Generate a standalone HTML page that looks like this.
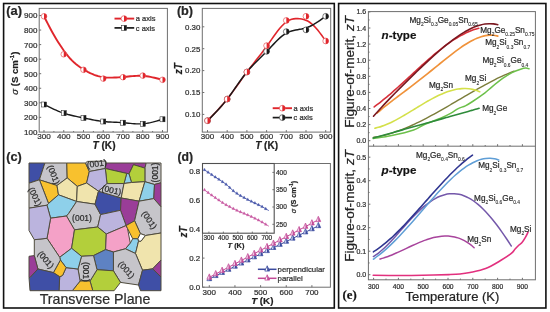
<!DOCTYPE html><html><head><meta charset="utf-8"><style>html,body{margin:0;padding:0;background:#fff;overflow:hidden}svg{display:block;filter:blur(0.4px)}text{stroke:#2a2a2a;stroke-width:0.22px}</style></head><body>
<svg width="550" height="312" viewBox="0 0 550 312" style="font-family:'Liberation Sans',sans-serif">
<rect x="0" y="0" width="550" height="312" fill="#fff"/>
<rect x="3.6" y="3.5" width="330.7" height="304.5" fill="none" stroke="#111" stroke-width="1.6"/>
<rect x="338.6" y="3.5" width="207.3" height="304.5" fill="none" stroke="#111" stroke-width="1.6"/>
<rect x="39.2" y="8.4" width="128.2" height="123.7" fill="none" stroke="#6e6e6e" stroke-width="1"/>
<text x="37.4" y="134.8" font-size="8" text-anchor="end" font-weight="normal" font-style="normal" fill="#333333" >100</text>
<line x1="39.2" y1="117.35" x2="41.2" y2="117.35" stroke="#6e6e6e" stroke-width="1"/>
<text x="37.4" y="120.25" font-size="8" text-anchor="end" font-weight="normal" font-style="normal" fill="#333333" >200</text>
<line x1="39.2" y1="102.8" x2="41.2" y2="102.8" stroke="#6e6e6e" stroke-width="1"/>
<text x="37.4" y="105.7" font-size="8" text-anchor="end" font-weight="normal" font-style="normal" fill="#333333" >300</text>
<line x1="39.2" y1="88.25" x2="41.2" y2="88.25" stroke="#6e6e6e" stroke-width="1"/>
<text x="37.4" y="91.15" font-size="8" text-anchor="end" font-weight="normal" font-style="normal" fill="#333333" >400</text>
<line x1="39.2" y1="73.7" x2="41.2" y2="73.7" stroke="#6e6e6e" stroke-width="1"/>
<text x="37.4" y="76.6" font-size="8" text-anchor="end" font-weight="normal" font-style="normal" fill="#333333" >500</text>
<line x1="39.2" y1="59.15" x2="41.2" y2="59.15" stroke="#6e6e6e" stroke-width="1"/>
<text x="37.4" y="62.05" font-size="8" text-anchor="end" font-weight="normal" font-style="normal" fill="#333333" >600</text>
<line x1="39.2" y1="44.6" x2="41.2" y2="44.6" stroke="#6e6e6e" stroke-width="1"/>
<text x="37.4" y="47.5" font-size="8" text-anchor="end" font-weight="normal" font-style="normal" fill="#333333" >700</text>
<line x1="39.2" y1="30.05" x2="41.2" y2="30.05" stroke="#6e6e6e" stroke-width="1"/>
<text x="37.4" y="32.95" font-size="8" text-anchor="end" font-weight="normal" font-style="normal" fill="#333333" >800</text>
<line x1="39.2" y1="15.5" x2="41.2" y2="15.5" stroke="#6e6e6e" stroke-width="1"/>
<text x="37.4" y="18.4" font-size="8" text-anchor="end" font-weight="normal" font-style="normal" fill="#333333" >900</text>
<line x1="44" y1="132.1" x2="44" y2="130.1" stroke="#6e6e6e" stroke-width="1"/>
<text x="44" y="139.4" font-size="8.1" text-anchor="middle" font-weight="normal" font-style="normal" fill="#333333" >300</text>
<line x1="63.75" y1="132.1" x2="63.75" y2="130.1" stroke="#6e6e6e" stroke-width="1"/>
<text x="63.75" y="139.4" font-size="8.1" text-anchor="middle" font-weight="normal" font-style="normal" fill="#333333" >400</text>
<line x1="83.5" y1="132.1" x2="83.5" y2="130.1" stroke="#6e6e6e" stroke-width="1"/>
<text x="83.5" y="139.4" font-size="8.1" text-anchor="middle" font-weight="normal" font-style="normal" fill="#333333" >500</text>
<line x1="103.25" y1="132.1" x2="103.25" y2="130.1" stroke="#6e6e6e" stroke-width="1"/>
<text x="103.25" y="139.4" font-size="8.1" text-anchor="middle" font-weight="normal" font-style="normal" fill="#333333" >600</text>
<line x1="123" y1="132.1" x2="123" y2="130.1" stroke="#6e6e6e" stroke-width="1"/>
<text x="123" y="139.4" font-size="8.1" text-anchor="middle" font-weight="normal" font-style="normal" fill="#333333" >700</text>
<line x1="142.75" y1="132.1" x2="142.75" y2="130.1" stroke="#6e6e6e" stroke-width="1"/>
<text x="142.75" y="139.4" font-size="8.1" text-anchor="middle" font-weight="normal" font-style="normal" fill="#333333" >800</text>
<line x1="162.5" y1="132.1" x2="162.5" y2="130.1" stroke="#6e6e6e" stroke-width="1"/>
<text x="162.5" y="139.4" font-size="8.1" text-anchor="middle" font-weight="normal" font-style="normal" fill="#333333" >900</text>
<line x1="53.88" y1="132.1" x2="53.88" y2="131" stroke="#6e6e6e" stroke-width="1"/>
<line x1="73.62" y1="132.1" x2="73.62" y2="131" stroke="#6e6e6e" stroke-width="1"/>
<line x1="93.38" y1="132.1" x2="93.38" y2="131" stroke="#6e6e6e" stroke-width="1"/>
<line x1="113.12" y1="132.1" x2="113.12" y2="131" stroke="#6e6e6e" stroke-width="1"/>
<line x1="132.88" y1="132.1" x2="132.88" y2="131" stroke="#6e6e6e" stroke-width="1"/>
<line x1="152.62" y1="132.1" x2="152.62" y2="131" stroke="#6e6e6e" stroke-width="1"/>
<text x="104" y="148.8" font-size="10.1" text-anchor="middle" font-weight="bold" font-style="normal" fill="#1e1e1e" ><tspan font-style="italic">T</tspan> (K)</text>
<text transform="translate(17.8,73.2) rotate(-90)" font-size="9.6" text-anchor="middle" font-weight="bold" fill="#1e1e1e"><tspan font-style="italic" font-weight="normal">&#963;</tspan> (S cm<tspan font-size="6" dy="-3.5">-1</tspan><tspan dy="3.5">)</tspan></text>
<text x="6.2" y="15.1" font-size="12.9" text-anchor="start" font-weight="bold" font-style="normal" fill="#262626" >(a)</text>
<path d="M44,16.3 L46.01,20.27 L48.02,24.19 L50.03,28.04 L52.03,31.76 L54.04,35.32 L56.05,38.72 L58.06,41.98 L60.07,45.09 L62.08,48.09 L64.08,50.95 L66.09,53.66 L68.1,56.19 L70.11,58.52 L72.12,60.63 L74.13,62.52 L76.14,64.21 L78.14,65.75 L80.15,67.17 L82.16,68.5 L84.17,69.76 L86.18,70.94 L88.19,72.05 L90.19,73.07 L92.2,73.99 L94.21,74.81 L96.22,75.53 L98.23,76.14 L100.24,76.65 L102.25,77.04 L104.25,77.33 L106.26,77.51 L108.27,77.61 L110.28,77.64 L112.29,77.62 L114.3,77.56 L116.31,77.47 L118.31,77.36 L120.32,77.22 L122.33,77.06 L124.34,76.88 L126.35,76.68 L128.36,76.48 L130.36,76.29 L132.37,76.12 L134.38,75.97 L136.39,75.86 L138.4,75.8 L140.41,75.81 L142.42,75.88 L144.42,76.03 L146.43,76.26 L148.44,76.56 L150.45,76.91 L152.46,77.31 L154.47,77.76 L156.47,78.24 L158.48,78.75 L160.49,79.27 L162.5,79.8" fill="none" stroke="#e0262c" stroke-width="1.9"/>
<path d="M44,104.5 L46.01,105.49 L48.02,106.47 L50.03,107.44 L52.03,108.39 L54.04,109.32 L56.05,110.21 L58.06,111.06 L60.07,111.87 L62.08,112.62 L64.08,113.31 L66.09,113.94 L68.1,114.52 L70.11,115.04 L72.12,115.53 L74.13,115.98 L76.14,116.41 L78.14,116.83 L80.15,117.23 L82.16,117.63 L84.17,118.04 L86.18,118.45 L88.19,118.87 L90.19,119.29 L92.2,119.69 L94.21,120.09 L96.22,120.46 L98.23,120.8 L100.24,121.11 L102.25,121.38 L104.25,121.61 L106.26,121.79 L108.27,121.93 L110.28,122.05 L112.29,122.15 L114.3,122.24 L116.31,122.32 L118.31,122.41 L120.32,122.52 L122.33,122.65 L124.34,122.81 L126.35,123 L128.36,123.2 L130.36,123.39 L132.37,123.58 L134.38,123.73 L136.39,123.85 L138.4,123.91 L140.41,123.91 L142.42,123.82 L144.42,123.65 L146.43,123.38 L148.44,123.04 L150.45,122.64 L152.46,122.17 L154.47,121.65 L156.47,121.1 L158.48,120.52 L160.49,119.91 L162.5,119.3" fill="none" stroke="#1a1a1a" stroke-width="1.4"/>
<circle cx="44" cy="16.3" r="2.8" fill="#fff" stroke="#e0262c" stroke-width="0.55"/>
<path d="M44,13.5 A2.8,2.8 0 0 1 44,19.1 Z" fill="#e0262c"/>
<circle cx="63.75" cy="54.3" r="2.8" fill="#fff" stroke="#e0262c" stroke-width="0.55"/>
<path d="M63.75,51.5 A2.8,2.8 0 0 1 63.75,57.1 Z" fill="#e0262c"/>
<circle cx="83.5" cy="69.8" r="2.8" fill="#fff" stroke="#e0262c" stroke-width="0.55"/>
<path d="M83.5,67 A2.8,2.8 0 0 1 83.5,72.6 Z" fill="#e0262c"/>
<circle cx="103.25" cy="78.6" r="2.8" fill="#fff" stroke="#e0262c" stroke-width="0.55"/>
<path d="M103.25,75.8 A2.8,2.8 0 0 1 103.25,81.4 Z" fill="#e0262c"/>
<circle cx="123" cy="77.2" r="2.8" fill="#fff" stroke="#e0262c" stroke-width="0.55"/>
<path d="M123,74.4 A2.8,2.8 0 0 1 123,80 Z" fill="#e0262c"/>
<circle cx="142.75" cy="75.6" r="2.8" fill="#fff" stroke="#e0262c" stroke-width="0.55"/>
<path d="M142.75,72.8 A2.8,2.8 0 0 1 142.75,78.4 Z" fill="#e0262c"/>
<circle cx="162.5" cy="79.8" r="2.8" fill="#fff" stroke="#e0262c" stroke-width="0.55"/>
<path d="M162.5,77 A2.8,2.8 0 0 1 162.5,82.6 Z" fill="#e0262c"/>
<rect x="41.5" y="102" width="5" height="5" fill="#fff" stroke="#1a1a1a" stroke-width="0.5"/>
<rect x="44" y="102" width="2.5" height="5" fill="#1a1a1a"/>
<rect x="61.25" y="110.7" width="5" height="5" fill="#fff" stroke="#1a1a1a" stroke-width="0.5"/>
<rect x="63.75" y="110.7" width="2.5" height="5" fill="#1a1a1a"/>
<rect x="81" y="115.4" width="5" height="5" fill="#fff" stroke="#1a1a1a" stroke-width="0.5"/>
<rect x="83.5" y="115.4" width="2.5" height="5" fill="#1a1a1a"/>
<rect x="100.75" y="119" width="5" height="5" fill="#fff" stroke="#1a1a1a" stroke-width="0.5"/>
<rect x="103.25" y="119" width="2.5" height="5" fill="#1a1a1a"/>
<rect x="120.5" y="120.2" width="5" height="5" fill="#fff" stroke="#1a1a1a" stroke-width="0.5"/>
<rect x="123" y="120.2" width="2.5" height="5" fill="#1a1a1a"/>
<rect x="140.25" y="121.3" width="5" height="5" fill="#fff" stroke="#1a1a1a" stroke-width="0.5"/>
<rect x="142.75" y="121.3" width="2.5" height="5" fill="#1a1a1a"/>
<rect x="160" y="116.8" width="5" height="5" fill="#fff" stroke="#1a1a1a" stroke-width="0.5"/>
<rect x="162.5" y="116.8" width="2.5" height="5" fill="#1a1a1a"/>
<line x1="114.5" y1="18.6" x2="134.2" y2="18.6" stroke="#e0262c" stroke-width="1.9"/>
<circle cx="124" cy="18.6" r="2.9" fill="#fff" stroke="#e0262c" stroke-width="0.55"/>
<path d="M124,15.7 A2.9,2.9 0 0 1 124,21.5 Z" fill="#e0262c"/>
<text x="135.8" y="21.3" font-size="7.5" text-anchor="start" font-weight="normal" font-style="normal" fill="#333333" >a axis</text>
<line x1="114.5" y1="27.9" x2="134.2" y2="27.9" stroke="#1a1a1a" stroke-width="1.7"/>
<rect x="121.5" y="25.4" width="5" height="5" fill="#fff" stroke="#1a1a1a" stroke-width="0.5"/>
<rect x="124" y="25.4" width="2.5" height="5" fill="#1a1a1a"/>
<text x="135.8" y="30.6" font-size="7.5" text-anchor="start" font-weight="normal" font-style="normal" fill="#333333" >c axis</text>
<rect x="202.3" y="8.4" width="128.4" height="123.7" fill="none" stroke="#6e6e6e" stroke-width="1"/>
<line x1="202.3" y1="114.4" x2="204.3" y2="114.4" stroke="#6e6e6e" stroke-width="1"/>
<text x="200.4" y="117.2" font-size="7.9" text-anchor="end" font-weight="normal" font-style="normal" fill="#333333" >0.10</text>
<line x1="202.3" y1="92.5" x2="204.3" y2="92.5" stroke="#6e6e6e" stroke-width="1"/>
<text x="200.4" y="95.3" font-size="7.9" text-anchor="end" font-weight="normal" font-style="normal" fill="#333333" >0.15</text>
<line x1="202.3" y1="70.6" x2="204.3" y2="70.6" stroke="#6e6e6e" stroke-width="1"/>
<text x="200.4" y="73.4" font-size="7.9" text-anchor="end" font-weight="normal" font-style="normal" fill="#333333" >0.20</text>
<line x1="202.3" y1="48.7" x2="204.3" y2="48.7" stroke="#6e6e6e" stroke-width="1"/>
<text x="200.4" y="51.5" font-size="7.9" text-anchor="end" font-weight="normal" font-style="normal" fill="#333333" >0.25</text>
<line x1="202.3" y1="26.8" x2="204.3" y2="26.8" stroke="#6e6e6e" stroke-width="1"/>
<text x="200.4" y="29.6" font-size="7.9" text-anchor="end" font-weight="normal" font-style="normal" fill="#333333" >0.30</text>
<line x1="207.5" y1="132.1" x2="207.5" y2="130.1" stroke="#6e6e6e" stroke-width="1"/>
<text x="207.5" y="139.4" font-size="8" text-anchor="middle" font-weight="normal" font-style="normal" fill="#333333" >300</text>
<line x1="227.2" y1="132.1" x2="227.2" y2="130.1" stroke="#6e6e6e" stroke-width="1"/>
<text x="227.2" y="139.4" font-size="8" text-anchor="middle" font-weight="normal" font-style="normal" fill="#333333" >400</text>
<line x1="246.9" y1="132.1" x2="246.9" y2="130.1" stroke="#6e6e6e" stroke-width="1"/>
<text x="246.9" y="139.4" font-size="8" text-anchor="middle" font-weight="normal" font-style="normal" fill="#333333" >500</text>
<line x1="266.6" y1="132.1" x2="266.6" y2="130.1" stroke="#6e6e6e" stroke-width="1"/>
<text x="266.6" y="139.4" font-size="8" text-anchor="middle" font-weight="normal" font-style="normal" fill="#333333" >600</text>
<line x1="286.3" y1="132.1" x2="286.3" y2="130.1" stroke="#6e6e6e" stroke-width="1"/>
<text x="286.3" y="139.4" font-size="8" text-anchor="middle" font-weight="normal" font-style="normal" fill="#333333" >700</text>
<line x1="306" y1="132.1" x2="306" y2="130.1" stroke="#6e6e6e" stroke-width="1"/>
<text x="306" y="139.4" font-size="8" text-anchor="middle" font-weight="normal" font-style="normal" fill="#333333" >800</text>
<line x1="325.7" y1="132.1" x2="325.7" y2="130.1" stroke="#6e6e6e" stroke-width="1"/>
<text x="325.7" y="139.4" font-size="8" text-anchor="middle" font-weight="normal" font-style="normal" fill="#333333" >900</text>
<text x="266.6" y="149.3" font-size="10" text-anchor="middle" font-weight="bold" font-style="normal" fill="#1e1e1e" ><tspan font-style="italic">T</tspan> (K)</text>
<text transform="translate(182.0,68.6) rotate(-90)" font-size="10.0" text-anchor="middle" font-weight="bold" font-style="italic" fill="#1e1e1e">zT</text>
<text x="176.9" y="15.4" font-size="12.7" text-anchor="start" font-weight="bold" font-style="normal" fill="#262626" >(b)</text>
<path d="M207.5,120.66 L209.5,118.64 L211.51,116.6 L213.51,114.54 L215.51,112.45 L217.52,110.31 L219.52,108.13 L221.52,105.88 L223.53,103.55 L225.53,101.15 L227.53,98.65 L229.54,96.05 L231.54,93.36 L233.54,90.62 L235.55,87.83 L237.55,85.01 L239.55,82.18 L241.56,79.35 L243.56,76.56 L245.56,73.8 L247.57,71.11 L249.57,68.49 L251.57,65.92 L253.58,63.38 L255.58,60.86 L257.58,58.33 L259.59,55.79 L261.59,53.22 L263.59,50.59 L265.6,47.89 L267.6,45.11 L269.61,42.25 L271.61,39.37 L273.61,36.52 L275.62,33.73 L277.62,31.06 L279.62,28.55 L281.63,26.25 L283.63,24.22 L285.63,22.48 L287.64,21.1 L289.64,20.06 L291.64,19.33 L293.65,18.87 L295.65,18.64 L297.65,18.61 L299.66,18.75 L301.66,19.03 L303.66,19.5 L305.67,20.17 L307.67,21.08 L309.67,22.27 L311.68,23.76 L313.68,25.58 L315.68,27.69 L317.69,30.05 L319.69,32.62 L321.69,35.32 L323.7,38.13 L325.7,40.99" fill="none" stroke="#e0262c" stroke-width="1.6"/>
<path d="M207.5,120.66 L209.5,118.67 L211.51,116.66 L213.51,114.62 L215.51,112.55 L217.52,110.43 L219.52,108.25 L221.52,105.99 L223.53,103.64 L225.53,101.19 L227.53,98.64 L229.54,95.96 L231.54,93.2 L233.54,90.37 L235.55,87.51 L237.55,84.65 L239.55,81.8 L241.56,79.01 L243.56,76.29 L245.56,73.67 L247.57,71.19 L249.57,68.85 L251.57,66.63 L253.58,64.51 L255.58,62.46 L257.58,60.47 L259.59,58.5 L261.59,56.55 L263.59,54.58 L265.6,52.57 L267.6,50.51 L269.61,48.39 L271.61,46.24 L273.61,44.12 L275.62,42.04 L277.62,40.04 L279.62,38.16 L281.63,36.42 L283.63,34.87 L285.63,33.54 L287.64,32.46 L289.64,31.6 L291.64,30.94 L293.65,30.43 L295.65,30.02 L297.65,29.67 L299.66,29.33 L301.66,28.97 L303.66,28.54 L305.67,28 L307.67,27.3 L309.67,26.46 L311.68,25.48 L313.68,24.38 L315.68,23.19 L317.69,21.91 L319.69,20.56 L321.69,19.16 L323.7,17.73 L325.7,16.29" fill="none" stroke="#1a1a1a" stroke-width="1.5"/>
<circle cx="207.5" cy="120.66" r="2.9" fill="#fff" stroke="#1a1a1a" stroke-width="0.55"/>
<path d="M207.5,117.76 A2.9,2.9 0 0 1 207.5,123.56 Z" fill="#1a1a1a"/>
<circle cx="227.2" cy="99.07" r="2.9" fill="#fff" stroke="#1a1a1a" stroke-width="0.55"/>
<path d="M227.2,96.17 A2.9,2.9 0 0 1 227.2,101.97 Z" fill="#1a1a1a"/>
<circle cx="246.9" cy="72" r="2.9" fill="#fff" stroke="#1a1a1a" stroke-width="0.55"/>
<path d="M246.9,69.1 A2.9,2.9 0 0 1 246.9,74.9 Z" fill="#1a1a1a"/>
<circle cx="266.6" cy="51.33" r="2.9" fill="#fff" stroke="#1a1a1a" stroke-width="0.55"/>
<path d="M266.6,48.43 A2.9,2.9 0 0 1 266.6,54.23 Z" fill="#1a1a1a"/>
<circle cx="286.3" cy="31.62" r="2.9" fill="#fff" stroke="#1a1a1a" stroke-width="0.55"/>
<path d="M286.3,28.72 A2.9,2.9 0 0 1 286.3,34.52 Z" fill="#1a1a1a"/>
<circle cx="306" cy="29.87" r="2.9" fill="#fff" stroke="#1a1a1a" stroke-width="0.55"/>
<path d="M306,26.97 A2.9,2.9 0 0 1 306,32.77 Z" fill="#1a1a1a"/>
<circle cx="325.7" cy="16.29" r="2.9" fill="#fff" stroke="#1a1a1a" stroke-width="0.55"/>
<path d="M325.7,13.39 A2.9,2.9 0 0 1 325.7,19.19 Z" fill="#1a1a1a"/>
<circle cx="207.5" cy="120.66" r="2.9" fill="#fff" stroke="#e0262c" stroke-width="0.55"/>
<path d="M207.5,117.76 A2.9,2.9 0 0 1 207.5,123.56 Z" fill="#e0262c"/>
<circle cx="227.2" cy="99.07" r="2.9" fill="#fff" stroke="#e0262c" stroke-width="0.55"/>
<path d="M227.2,96.17 A2.9,2.9 0 0 1 227.2,101.97 Z" fill="#e0262c"/>
<circle cx="246.9" cy="72" r="2.9" fill="#fff" stroke="#e0262c" stroke-width="0.55"/>
<path d="M246.9,69.1 A2.9,2.9 0 0 1 246.9,74.9 Z" fill="#e0262c"/>
<circle cx="266.6" cy="45.63" r="2.9" fill="#fff" stroke="#e0262c" stroke-width="0.55"/>
<path d="M266.6,42.73 A2.9,2.9 0 0 1 266.6,48.53 Z" fill="#e0262c"/>
<circle cx="286.3" cy="20.45" r="2.9" fill="#fff" stroke="#e0262c" stroke-width="0.55"/>
<path d="M286.3,17.55 A2.9,2.9 0 0 1 286.3,23.35 Z" fill="#e0262c"/>
<circle cx="306" cy="16.29" r="2.9" fill="#fff" stroke="#e0262c" stroke-width="0.55"/>
<path d="M306,13.39 A2.9,2.9 0 0 1 306,19.19 Z" fill="#e0262c"/>
<circle cx="325.7" cy="40.99" r="2.9" fill="#fff" stroke="#e0262c" stroke-width="0.55"/>
<path d="M325.7,38.09 A2.9,2.9 0 0 1 325.7,43.89 Z" fill="#e0262c"/>
<line x1="272.7" y1="108.2" x2="292" y2="108.2" stroke="#e0262c" stroke-width="1.9"/>
<circle cx="282.3" cy="108.2" r="2.9" fill="#fff" stroke="#e0262c" stroke-width="0.55"/>
<path d="M282.3,105.3 A2.9,2.9 0 0 1 282.3,111.1 Z" fill="#e0262c"/>
<text x="293.6" y="110.9" font-size="7.5" text-anchor="start" font-weight="normal" font-style="normal" fill="#333333" >a axis</text>
<line x1="272.7" y1="117.6" x2="292" y2="117.6" stroke="#1a1a1a" stroke-width="1.7"/>
<circle cx="282.3" cy="117.6" r="2.9" fill="#fff" stroke="#1a1a1a" stroke-width="0.55"/>
<path d="M282.3,114.7 A2.9,2.9 0 0 1 282.3,120.5 Z" fill="#1a1a1a"/>
<text x="293.6" y="120.3" font-size="7.5" text-anchor="start" font-weight="normal" font-style="normal" fill="#333333" >c axis</text>
<text x="6.3" y="161.1" font-size="12.7" text-anchor="start" font-weight="bold" font-style="normal" fill="#262626" >(c)</text>
<text x="95" y="303.7" font-size="14.2" text-anchor="middle" font-weight="normal" font-style="normal" fill="#2e2e2e" >Transverse Plane</text>
<g stroke="#4f4b3d" stroke-width="1.0" stroke-linejoin="round">
<polygon points="29,163 44.9,163 39.4,179.8 29,183.2" fill="#3f4fa6"/>
<polygon points="44.9,163 66.8,163 67.2,177.9 57,185.5 39.4,179.8" fill="#c6c5ca"/>
<polygon points="66.8,163 85.5,163 89.3,171.5 86.6,183 77.3,186.4 67.2,177.9" fill="#f8c12e"/>
<polygon points="85.5,162.8 87.5,161.4 105.8,161 106,163 105.3,168.5 89.3,171.5" fill="#c6c5ca"/>
<polygon points="106,163 146.2,163 144.9,168.1 133.5,164.7 129,173.9 126.7,173.4 105.3,168.5" fill="#9a3d98"/>
<polygon points="146.2,163 161,163 161,182.8 154.5,184.5 144.9,181.7 144.9,168.1" fill="#c6c5ca"/>
<polygon points="133.5,164.7 144.9,168.1 144.9,181.7 131.5,182.5 129,173.9" fill="#b3cf3b"/>
<polygon points="126.7,173.4 129,173.9 131.5,182.5 124,183.5" fill="#8ed0ea"/>
<polygon points="105.3,168.5 126.7,173.4 124,183.5 107,183.6" fill="#b3cf3b"/>
<polygon points="89.3,171.5 105.3,168.5 107,183.6 98.5,191.2 86.6,183" fill="#bbb4de"/>
<polygon points="39.4,179.8 57,185.5 58.5,194.8 48.5,203.5" fill="#f8c12e"/>
<polygon points="29,183.2 39.4,179.8 48.5,203.5 47,205.2 29,208.2" fill="#c6c5ca"/>
<polygon points="57,185.5 67.2,177.9 77.3,186.4 76.6,201.5 58.5,194.8" fill="#f0e4ad"/>
<polygon points="77.3,186.4 86.6,183 98.5,191.2 95,204.2 76.6,201.5" fill="#f0e4ad"/>
<polygon points="48.5,203.5 58.5,194.8 76.6,201.5 68.8,213.3 66.5,216 50.6,218.2 47,205.2" fill="#8ed0ea"/>
<polygon points="76.6,201.5 95,204.2 100.6,214.6 97.7,227 74.5,229.8 66.5,216 68.8,213.3" fill="#c6c5ca"/>
<polygon points="50.6,218.2 66.5,216 74.5,229.8 71.6,248.3 59.7,257.3 47,238.3" fill="#f4a1c7"/>
<polygon points="98.5,191.2 121.2,198 120.5,210.3 100.6,214.6 95,204.2" fill="#3f4fa6"/>
<polygon points="98.5,191.2 107,183.6 124,183.5 121.2,198" fill="#c6c5ca"/>
<polygon points="124,183.5 131.5,182.5 144.9,181.7 139.1,201.2 121.2,198" fill="#f0e4ad"/>
<polygon points="144.9,181.7 154.5,184.5 153.8,198.6 139.1,201.2" fill="#8ed0ea"/>
<polygon points="154.5,184.5 161,182.8 161,206.9 153.8,198.6" fill="#9a3d98"/>
<polygon points="121.2,198 139.1,201.2 134.6,220.8 126.1,225.6 120.5,210.3" fill="#9a3d98"/>
<polygon points="139.1,201.2 153.8,198.6 161,206.9 161,233 145.5,235.5 140.4,233.6 134.6,220.8" fill="#c6c5ca"/>
<polygon points="100.6,214.6 120.5,210.3 126.1,225.6 106.3,234 97.7,227" fill="#bbb4de"/>
<polygon points="74.5,229.8 97.7,227 106.3,234 105.6,249.6 93.5,255.6 81.5,256.3 71.6,248.3" fill="#b3cf3b"/>
<polygon points="106.3,234 126.1,225.6 127.5,228.4 130.3,243.2 125.4,248.8 113.4,252 105.6,249.6" fill="#f4a1c7"/>
<polygon points="134.6,220.8 140.4,233.6 137.8,238.8 132.7,238.7 127.5,228.4 126.1,225.6" fill="#f8c12e"/>
<polygon points="140.4,233.6 145.5,235.5 141,241.3 138.5,241.3 137.8,238.8" fill="#ffffff"/>
<polygon points="130.3,243.2 132.7,238.7 137.8,238.8 138.5,241.3 135.5,253.5 125.4,248.8" fill="#8ed0ea"/>
<polygon points="145.5,235.5 161,233 161,260.1 152.6,268.9 142.5,270.2 135.5,253.5 138.5,241.3 141,241.3" fill="#f0e4ad"/>
<polygon points="113.4,252 125.4,248.8 135.5,253.5 142.5,270.2 138.5,285 120.5,282.4 113.4,270.8" fill="#c6c5ca"/>
<polygon points="152.6,268.9 161,260.1 161,277" fill="#9a3d98"/>
<polygon points="142.5,270.2 152.6,268.9 161,277 161,290.7 140.5,290.7 138.5,285" fill="#3f4fa6"/>
<polygon points="93.5,255.6 105.6,249.6 113.4,252 113.4,270.8 97,269.7" fill="#5e82c3"/>
<polygon points="97,269.7 113.4,270.8 120.5,282.4 114.1,290.7 92.8,290.7 90,281" fill="#b3cf3b"/>
<polygon points="81.5,256.3 93.5,255.6 97,269.7 90,281 80.1,281 78,269" fill="#c6c5ca"/>
<polygon points="80.1,281 90,281 92.8,290.7 72.3,290.7" fill="#f8c12e"/>
<polygon points="66.1,267.6 78,269 80.1,281 72.3,290.7 59,290.7 59.7,276.8 62.6,275.4" fill="#bbb4de"/>
<polygon points="59.7,257.3 71.6,248.3 81.5,256.3 78,269 66.1,267.6 60.4,260" fill="#8ed0ea"/>
<polygon points="60.4,260 66.1,267.6 62.6,275.4 59.7,276.8 53.4,272.6" fill="#f8c12e"/>
<polygon points="34.3,239.7 47,238.3 59.7,257.3 60.4,260 53.4,272.6 37.9,269 34.3,255.6" fill="#c6c5ca"/>
<polygon points="29,256.3 34.3,255.6 37.9,269 30.1,277.5 29,277.5" fill="#9a3d98"/>
<polygon points="29,277.5 30.1,277.5 37.9,269 53.4,272.6 59.7,276.8 59,290.7 30,290.7" fill="#3f4fa6"/>
<polygon points="29,208.2 47,205.2 50.6,218.2 47,238.3 34.3,239.7 29,230.5" fill="#bbb4de"/>
</g>
<text transform="translate(53.7,174.6) rotate(68)" font-size="8.5" text-anchor="middle" fill="#2e2e2e" dy="3.0">(001)</text>
<text transform="translate(35.2,196.6) rotate(64)" font-size="8.5" text-anchor="middle" fill="#2e2e2e" dy="3.0">(001)</text>
<text transform="translate(96.7,163.6) rotate(-8)" font-size="8.5" text-anchor="middle" fill="#2e2e2e" dy="3.0">(001)</text>
<text transform="translate(111.6,190) rotate(13)" font-size="8.5" text-anchor="middle" fill="#2e2e2e" dy="3.0">(001)</text>
<text transform="translate(154.9,172.5) rotate(-90)" font-size="8.5" text-anchor="middle" fill="#2e2e2e" dy="3.0">(001)</text>
<text transform="translate(82,218) rotate(0)" font-size="8.5" text-anchor="middle" fill="#2e2e2e" dy="3.0">(001)</text>
<text transform="translate(149.4,220) rotate(56)" font-size="8.5" text-anchor="middle" fill="#2e2e2e" dy="3.0">(001)</text>
<text transform="translate(85.7,271.8) rotate(90)" font-size="8.5" text-anchor="middle" fill="#2e2e2e" dy="3.0">(001)</text>
<text transform="translate(126.5,269.7) rotate(48)" font-size="8.5" text-anchor="middle" fill="#2e2e2e" dy="3.0">(001)</text>
<text transform="translate(45.9,259.6) rotate(50)" font-size="8.5" text-anchor="middle" fill="#2e2e2e" dy="3.0">(001)</text>
<rect x="202.5" y="163.5" width="127.9" height="123.7" fill="none" stroke="#6e6e6e" stroke-width="1"/>
<line x1="202.5" y1="287.2" x2="204.5" y2="287.2" stroke="#6e6e6e" stroke-width="1"/>
<text x="200.2" y="290" font-size="7.9" text-anchor="end" font-weight="normal" font-style="normal" fill="#333333" >0.0</text>
<line x1="202.5" y1="258.1" x2="204.5" y2="258.1" stroke="#6e6e6e" stroke-width="1"/>
<text x="200.2" y="260.9" font-size="7.9" text-anchor="end" font-weight="normal" font-style="normal" fill="#333333" >0.2</text>
<line x1="202.5" y1="229" x2="204.5" y2="229" stroke="#6e6e6e" stroke-width="1"/>
<text x="200.2" y="231.8" font-size="7.9" text-anchor="end" font-weight="normal" font-style="normal" fill="#333333" >0.4</text>
<line x1="202.5" y1="199.9" x2="204.5" y2="199.9" stroke="#6e6e6e" stroke-width="1"/>
<text x="200.2" y="202.7" font-size="7.9" text-anchor="end" font-weight="normal" font-style="normal" fill="#333333" >0.6</text>
<line x1="202.5" y1="170.8" x2="204.5" y2="170.8" stroke="#6e6e6e" stroke-width="1"/>
<text x="200.2" y="173.6" font-size="7.9" text-anchor="end" font-weight="normal" font-style="normal" fill="#333333" >0.8</text>
<line x1="209.3" y1="287.2" x2="209.3" y2="285.2" stroke="#6e6e6e" stroke-width="1"/>
<text x="209.3" y="294.6" font-size="8" text-anchor="middle" font-weight="normal" font-style="normal" fill="#333333" >300</text>
<line x1="234.95" y1="287.2" x2="234.95" y2="285.2" stroke="#6e6e6e" stroke-width="1"/>
<text x="234.95" y="294.6" font-size="8" text-anchor="middle" font-weight="normal" font-style="normal" fill="#333333" >400</text>
<line x1="260.6" y1="287.2" x2="260.6" y2="285.2" stroke="#6e6e6e" stroke-width="1"/>
<text x="260.6" y="294.6" font-size="8" text-anchor="middle" font-weight="normal" font-style="normal" fill="#333333" >500</text>
<line x1="286.25" y1="287.2" x2="286.25" y2="285.2" stroke="#6e6e6e" stroke-width="1"/>
<text x="286.25" y="294.6" font-size="8" text-anchor="middle" font-weight="normal" font-style="normal" fill="#333333" >600</text>
<line x1="311.9" y1="287.2" x2="311.9" y2="285.2" stroke="#6e6e6e" stroke-width="1"/>
<text x="311.9" y="294.6" font-size="8" text-anchor="middle" font-weight="normal" font-style="normal" fill="#333333" >700</text>
<text x="262.3" y="304.1" font-size="9.8" text-anchor="middle" font-weight="bold" font-style="normal" fill="#1e1e1e" ><tspan font-style="italic">T</tspan> (K)</text>
<text transform="translate(187.2,231.9) rotate(-90)" font-size="10.0" text-anchor="middle" font-weight="bold" font-style="italic" fill="#1e1e1e">zT</text>
<text x="177.4" y="161.1" font-size="12.2" text-anchor="start" font-weight="bold" font-style="normal" fill="#262626" >(d)</text>
<polyline points="209.3,278.9 215.71,275.78 222.12,272.66 228.54,269.55 234.95,266.43 241.36,263.31 247.78,260.19 254.19,257.08 260.6,253.96 267.01,250.84 273.43,247.72 279.84,244.61 286.25,241.49 292.66,238.37 299.08,235.25 305.49,232.14 311.9,229.02 318.31,225.9" fill="none" stroke="#3b4b9e" stroke-width="1"/>
<polyline points="209.3,277.4 215.71,274.01 222.12,270.62 228.54,267.24 234.95,263.85 241.36,260.46 247.78,257.07 254.19,253.68 260.6,250.29 267.01,246.91 273.43,243.52 279.84,240.13 286.25,236.74 292.66,233.35 299.08,229.96 305.49,226.58 311.9,223.19 318.31,219.8" fill="none" stroke="#c24a96" stroke-width="1"/>
<path d="M209.3,275.37 L211.7,280.67 L206.9,280.67 Z" fill="#d0d6f2" stroke="#3b4b9e" stroke-width="0.7"/>
<path d="M209.3,275.37 L211.7,280.67 L209.3,280.67 Z" fill="#3b4b9e"/>
<path d="M215.71,272.25 L218.11,277.55 L213.31,277.55 Z" fill="#d0d6f2" stroke="#3b4b9e" stroke-width="0.7"/>
<path d="M215.71,272.25 L218.11,277.55 L215.71,277.55 Z" fill="#3b4b9e"/>
<path d="M222.12,269.13 L224.53,274.43 L219.72,274.43 Z" fill="#d0d6f2" stroke="#3b4b9e" stroke-width="0.7"/>
<path d="M222.12,269.13 L224.53,274.43 L222.12,274.43 Z" fill="#3b4b9e"/>
<path d="M228.54,266.01 L230.94,271.31 L226.14,271.31 Z" fill="#d0d6f2" stroke="#3b4b9e" stroke-width="0.7"/>
<path d="M228.54,266.01 L230.94,271.31 L228.54,271.31 Z" fill="#3b4b9e"/>
<path d="M234.95,262.9 L237.35,268.2 L232.55,268.2 Z" fill="#d0d6f2" stroke="#3b4b9e" stroke-width="0.7"/>
<path d="M234.95,262.9 L237.35,268.2 L234.95,268.2 Z" fill="#3b4b9e"/>
<path d="M241.36,259.78 L243.76,265.08 L238.96,265.08 Z" fill="#d0d6f2" stroke="#3b4b9e" stroke-width="0.7"/>
<path d="M241.36,259.78 L243.76,265.08 L241.36,265.08 Z" fill="#3b4b9e"/>
<path d="M247.78,256.66 L250.18,261.96 L245.38,261.96 Z" fill="#d0d6f2" stroke="#3b4b9e" stroke-width="0.7"/>
<path d="M247.78,256.66 L250.18,261.96 L247.78,261.96 Z" fill="#3b4b9e"/>
<path d="M254.19,253.54 L256.59,258.84 L251.79,258.84 Z" fill="#d0d6f2" stroke="#3b4b9e" stroke-width="0.7"/>
<path d="M254.19,253.54 L256.59,258.84 L254.19,258.84 Z" fill="#3b4b9e"/>
<path d="M260.6,250.43 L263,255.73 L258.2,255.73 Z" fill="#d0d6f2" stroke="#3b4b9e" stroke-width="0.7"/>
<path d="M260.6,250.43 L263,255.73 L260.6,255.73 Z" fill="#3b4b9e"/>
<path d="M267.01,247.31 L269.41,252.61 L264.61,252.61 Z" fill="#d0d6f2" stroke="#3b4b9e" stroke-width="0.7"/>
<path d="M267.01,247.31 L269.41,252.61 L267.01,252.61 Z" fill="#3b4b9e"/>
<path d="M273.43,244.19 L275.82,249.49 L271.03,249.49 Z" fill="#d0d6f2" stroke="#3b4b9e" stroke-width="0.7"/>
<path d="M273.43,244.19 L275.82,249.49 L273.43,249.49 Z" fill="#3b4b9e"/>
<path d="M279.84,241.07 L282.24,246.37 L277.44,246.37 Z" fill="#d0d6f2" stroke="#3b4b9e" stroke-width="0.7"/>
<path d="M279.84,241.07 L282.24,246.37 L279.84,246.37 Z" fill="#3b4b9e"/>
<path d="M286.25,237.95 L288.65,243.25 L283.85,243.25 Z" fill="#d0d6f2" stroke="#3b4b9e" stroke-width="0.7"/>
<path d="M286.25,237.95 L288.65,243.25 L286.25,243.25 Z" fill="#3b4b9e"/>
<path d="M292.66,234.84 L295.06,240.14 L290.26,240.14 Z" fill="#d0d6f2" stroke="#3b4b9e" stroke-width="0.7"/>
<path d="M292.66,234.84 L295.06,240.14 L292.66,240.14 Z" fill="#3b4b9e"/>
<path d="M299.08,231.72 L301.48,237.02 L296.68,237.02 Z" fill="#d0d6f2" stroke="#3b4b9e" stroke-width="0.7"/>
<path d="M299.08,231.72 L301.48,237.02 L299.08,237.02 Z" fill="#3b4b9e"/>
<path d="M305.49,228.6 L307.89,233.9 L303.09,233.9 Z" fill="#d0d6f2" stroke="#3b4b9e" stroke-width="0.7"/>
<path d="M305.49,228.6 L307.89,233.9 L305.49,233.9 Z" fill="#3b4b9e"/>
<path d="M311.9,225.48 L314.3,230.78 L309.5,230.78 Z" fill="#d0d6f2" stroke="#3b4b9e" stroke-width="0.7"/>
<path d="M311.9,225.48 L314.3,230.78 L311.9,230.78 Z" fill="#3b4b9e"/>
<path d="M318.31,222.37 L320.71,227.67 L315.91,227.67 Z" fill="#d0d6f2" stroke="#3b4b9e" stroke-width="0.7"/>
<path d="M318.31,222.37 L320.71,227.67 L318.31,227.67 Z" fill="#3b4b9e"/>
<path d="M209.3,273.87 L211.7,279.17 L206.9,279.17 Z" fill="#f4d2ea" stroke="#c24a96" stroke-width="0.7"/>
<path d="M209.3,273.87 L211.7,279.17 L209.3,279.17 Z" fill="#c24a96"/>
<path d="M215.71,270.48 L218.11,275.78 L213.31,275.78 Z" fill="#f4d2ea" stroke="#c24a96" stroke-width="0.7"/>
<path d="M215.71,270.48 L218.11,275.78 L215.71,275.78 Z" fill="#c24a96"/>
<path d="M222.12,267.09 L224.53,272.39 L219.72,272.39 Z" fill="#f4d2ea" stroke="#c24a96" stroke-width="0.7"/>
<path d="M222.12,267.09 L224.53,272.39 L222.12,272.39 Z" fill="#c24a96"/>
<path d="M228.54,263.7 L230.94,269 L226.14,269 Z" fill="#f4d2ea" stroke="#c24a96" stroke-width="0.7"/>
<path d="M228.54,263.7 L230.94,269 L228.54,269 Z" fill="#c24a96"/>
<path d="M234.95,260.31 L237.35,265.61 L232.55,265.61 Z" fill="#f4d2ea" stroke="#c24a96" stroke-width="0.7"/>
<path d="M234.95,260.31 L237.35,265.61 L234.95,265.61 Z" fill="#c24a96"/>
<path d="M241.36,256.93 L243.76,262.23 L238.96,262.23 Z" fill="#f4d2ea" stroke="#c24a96" stroke-width="0.7"/>
<path d="M241.36,256.93 L243.76,262.23 L241.36,262.23 Z" fill="#c24a96"/>
<path d="M247.78,253.54 L250.18,258.84 L245.38,258.84 Z" fill="#f4d2ea" stroke="#c24a96" stroke-width="0.7"/>
<path d="M247.78,253.54 L250.18,258.84 L247.78,258.84 Z" fill="#c24a96"/>
<path d="M254.19,250.15 L256.59,255.45 L251.79,255.45 Z" fill="#f4d2ea" stroke="#c24a96" stroke-width="0.7"/>
<path d="M254.19,250.15 L256.59,255.45 L254.19,255.45 Z" fill="#c24a96"/>
<path d="M260.6,246.76 L263,252.06 L258.2,252.06 Z" fill="#f4d2ea" stroke="#c24a96" stroke-width="0.7"/>
<path d="M260.6,246.76 L263,252.06 L260.6,252.06 Z" fill="#c24a96"/>
<path d="M267.01,243.37 L269.41,248.67 L264.61,248.67 Z" fill="#f4d2ea" stroke="#c24a96" stroke-width="0.7"/>
<path d="M267.01,243.37 L269.41,248.67 L267.01,248.67 Z" fill="#c24a96"/>
<path d="M273.43,239.98 L275.82,245.28 L271.03,245.28 Z" fill="#f4d2ea" stroke="#c24a96" stroke-width="0.7"/>
<path d="M273.43,239.98 L275.82,245.28 L273.43,245.28 Z" fill="#c24a96"/>
<path d="M279.84,236.6 L282.24,241.9 L277.44,241.9 Z" fill="#f4d2ea" stroke="#c24a96" stroke-width="0.7"/>
<path d="M279.84,236.6 L282.24,241.9 L279.84,241.9 Z" fill="#c24a96"/>
<path d="M286.25,233.21 L288.65,238.51 L283.85,238.51 Z" fill="#f4d2ea" stroke="#c24a96" stroke-width="0.7"/>
<path d="M286.25,233.21 L288.65,238.51 L286.25,238.51 Z" fill="#c24a96"/>
<path d="M292.66,229.82 L295.06,235.12 L290.26,235.12 Z" fill="#f4d2ea" stroke="#c24a96" stroke-width="0.7"/>
<path d="M292.66,229.82 L295.06,235.12 L292.66,235.12 Z" fill="#c24a96"/>
<path d="M299.08,226.43 L301.48,231.73 L296.68,231.73 Z" fill="#f4d2ea" stroke="#c24a96" stroke-width="0.7"/>
<path d="M299.08,226.43 L301.48,231.73 L299.08,231.73 Z" fill="#c24a96"/>
<path d="M305.49,223.04 L307.89,228.34 L303.09,228.34 Z" fill="#f4d2ea" stroke="#c24a96" stroke-width="0.7"/>
<path d="M305.49,223.04 L307.89,228.34 L305.49,228.34 Z" fill="#c24a96"/>
<path d="M311.9,219.65 L314.3,224.95 L309.5,224.95 Z" fill="#f4d2ea" stroke="#c24a96" stroke-width="0.7"/>
<path d="M311.9,219.65 L314.3,224.95 L311.9,224.95 Z" fill="#c24a96"/>
<path d="M318.31,216.27 L320.71,221.57 L315.91,221.57 Z" fill="#f4d2ea" stroke="#c24a96" stroke-width="0.7"/>
<path d="M318.31,216.27 L320.71,221.57 L318.31,221.57 Z" fill="#c24a96"/>
<line x1="257.9" y1="269.3" x2="276.5" y2="269.3" stroke="#3b4b9e" stroke-width="1.5"/>
<path d="M267.2,265.77 L269.6,271.07 L264.8,271.07 Z" fill="#fff" stroke="#3b4b9e" stroke-width="0.8"/>
<path d="M267.2,265.77 L269.6,271.07 L267.2,271.07 Z" fill="#3b4b9e"/>
<text x="277.6" y="272" font-size="7.8" text-anchor="start" font-weight="normal" font-style="normal" fill="#333" >perpendicular</text>
<line x1="257.9" y1="278.3" x2="276.5" y2="278.3" stroke="#c24a96" stroke-width="1.5"/>
<path d="M267.2,274.77 L269.6,280.07 L264.8,280.07 Z" fill="#fff" stroke="#c24a96" stroke-width="0.8"/>
<path d="M267.2,274.77 L269.6,280.07 L267.2,280.07 Z" fill="#c24a96"/>
<text x="277.6" y="281" font-size="7.8" text-anchor="start" font-weight="normal" font-style="normal" fill="#333" >parallel</text>
<rect x="202.5" y="163.5" width="71.7" height="69.7" fill="#fff" stroke="#505050" stroke-width="1.1"/>
<line x1="274.2" y1="224.3" x2="272.4" y2="224.3" stroke="#6e6e6e" stroke-width="1"/>
<text x="276" y="226.6" font-size="6.5" text-anchor="start" font-weight="normal" font-style="normal" fill="#333333" >250</text>
<line x1="274.2" y1="207" x2="272.4" y2="207" stroke="#6e6e6e" stroke-width="1"/>
<text x="276" y="209.3" font-size="6.5" text-anchor="start" font-weight="normal" font-style="normal" fill="#333333" >300</text>
<line x1="274.2" y1="189.7" x2="272.4" y2="189.7" stroke="#6e6e6e" stroke-width="1"/>
<text x="276" y="192" font-size="6.5" text-anchor="start" font-weight="normal" font-style="normal" fill="#333333" >350</text>
<line x1="274.2" y1="172.4" x2="272.4" y2="172.4" stroke="#6e6e6e" stroke-width="1"/>
<text x="276" y="174.7" font-size="6.5" text-anchor="start" font-weight="normal" font-style="normal" fill="#333333" >400</text>
<line x1="208.9" y1="233.2" x2="208.9" y2="231.6" stroke="#6e6e6e" stroke-width="1"/>
<text x="208.9" y="240" font-size="6.4" text-anchor="middle" font-weight="normal" font-style="normal" fill="#333333" >300</text>
<line x1="223.37" y1="233.2" x2="223.37" y2="231.6" stroke="#6e6e6e" stroke-width="1"/>
<text x="223.37" y="240" font-size="6.4" text-anchor="middle" font-weight="normal" font-style="normal" fill="#333333" >400</text>
<line x1="237.84" y1="233.2" x2="237.84" y2="231.6" stroke="#6e6e6e" stroke-width="1"/>
<text x="237.84" y="240" font-size="6.4" text-anchor="middle" font-weight="normal" font-style="normal" fill="#333333" >500</text>
<line x1="252.31" y1="233.2" x2="252.31" y2="231.6" stroke="#6e6e6e" stroke-width="1"/>
<text x="252.31" y="240" font-size="6.4" text-anchor="middle" font-weight="normal" font-style="normal" fill="#333333" >600</text>
<line x1="266.78" y1="233.2" x2="266.78" y2="231.6" stroke="#6e6e6e" stroke-width="1"/>
<text x="266.78" y="240" font-size="6.4" text-anchor="middle" font-weight="normal" font-style="normal" fill="#333333" >700</text>
<text x="236" y="247.6" font-size="7.4" text-anchor="middle" font-weight="bold" font-style="normal" fill="#1e1e1e" ><tspan font-style="italic">T</tspan> (K)</text>
<text transform="translate(295.7,197) rotate(-90)" font-size="7.2" text-anchor="middle" font-weight="bold" fill="#1e1e1e"><tspan font-style="italic" font-weight="normal">&#963;</tspan> (S cm<tspan font-size="4.5" dy="-2.6">-1</tspan><tspan dy="2.6">)</tspan></text>
<path d="M203.8,169.4 C205.17,170.33 208.47,172.65 212,175 C215.53,177.35 221.33,180.75 225,183.5 C228.67,186.25 231.5,189.5 234,191.5 C236.5,193.5 237.33,193.95 240,195.5 C242.67,197.05 246.67,199.12 250,200.8 C253.33,202.48 256.87,203.97 260,205.6 C263.13,207.23 267.33,209.77 268.8,210.6" fill="none" stroke="#4858aa" stroke-width="0.9"/>
<path d="M204.3,189.8 C205.58,190.75 208.55,193.08 212,195.5 C215.45,197.92 220.75,201.75 225,204.3 C229.25,206.85 233.33,208.85 237.5,210.8 C241.67,212.75 246.25,214.3 250,216 C253.75,217.7 256.87,219.3 260,221 C263.13,222.7 267.33,225.33 268.8,226.2" fill="none" stroke="#c85aa2" stroke-width="0.9"/>
<path d="M204.5,168.18 l1.35,2.5 h-2.7 Z" fill="#4858aa" stroke="#4858aa" stroke-width="0.35"/>
<path d="M204.5,188.25 l1.35,2.5 h-2.7 Z" fill="#c85aa2" stroke="#c85aa2" stroke-width="0.35"/>
<path d="M208.1,170.64 l1.35,2.5 h-2.7 Z" fill="#4858aa" stroke="#4858aa" stroke-width="0.35"/>
<path d="M208.1,190.91 l1.35,2.5 h-2.7 Z" fill="#c85aa2" stroke="#c85aa2" stroke-width="0.35"/>
<path d="M211.7,173.1 l1.35,2.5 h-2.7 Z" fill="#4858aa" stroke="#4858aa" stroke-width="0.35"/>
<path d="M211.7,193.58 l1.35,2.5 h-2.7 Z" fill="#c85aa2" stroke="#c85aa2" stroke-width="0.35"/>
<path d="M215.3,175.46 l1.35,2.5 h-2.7 Z" fill="#4858aa" stroke="#4858aa" stroke-width="0.35"/>
<path d="M215.3,196.03 l1.35,2.5 h-2.7 Z" fill="#c85aa2" stroke="#c85aa2" stroke-width="0.35"/>
<path d="M218.9,177.81 l1.35,2.5 h-2.7 Z" fill="#4858aa" stroke="#4858aa" stroke-width="0.35"/>
<path d="M218.9,198.47 l1.35,2.5 h-2.7 Z" fill="#c85aa2" stroke="#c85aa2" stroke-width="0.35"/>
<path d="M222.5,180.17 l1.35,2.5 h-2.7 Z" fill="#4858aa" stroke="#4858aa" stroke-width="0.35"/>
<path d="M222.5,200.91 l1.35,2.5 h-2.7 Z" fill="#c85aa2" stroke="#c85aa2" stroke-width="0.35"/>
<path d="M226.1,182.78 l1.35,2.5 h-2.7 Z" fill="#4858aa" stroke="#4858aa" stroke-width="0.35"/>
<path d="M226.1,203.17 l1.35,2.5 h-2.7 Z" fill="#c85aa2" stroke="#c85aa2" stroke-width="0.35"/>
<path d="M229.7,185.98 l1.35,2.5 h-2.7 Z" fill="#4858aa" stroke="#4858aa" stroke-width="0.35"/>
<path d="M229.7,205.04 l1.35,2.5 h-2.7 Z" fill="#c85aa2" stroke="#c85aa2" stroke-width="0.35"/>
<path d="M233.3,189.18 l1.35,2.5 h-2.7 Z" fill="#4858aa" stroke="#4858aa" stroke-width="0.35"/>
<path d="M233.3,206.92 l1.35,2.5 h-2.7 Z" fill="#c85aa2" stroke="#c85aa2" stroke-width="0.35"/>
<path d="M236.9,191.73 l1.35,2.5 h-2.7 Z" fill="#4858aa" stroke="#4858aa" stroke-width="0.35"/>
<path d="M236.9,208.79 l1.35,2.5 h-2.7 Z" fill="#c85aa2" stroke="#c85aa2" stroke-width="0.35"/>
<path d="M240.5,194.06 l1.35,2.5 h-2.7 Z" fill="#4858aa" stroke="#4858aa" stroke-width="0.35"/>
<path d="M240.5,210.35 l1.35,2.5 h-2.7 Z" fill="#c85aa2" stroke="#c85aa2" stroke-width="0.35"/>
<path d="M244.1,195.97 l1.35,2.5 h-2.7 Z" fill="#4858aa" stroke="#4858aa" stroke-width="0.35"/>
<path d="M244.1,211.85 l1.35,2.5 h-2.7 Z" fill="#c85aa2" stroke="#c85aa2" stroke-width="0.35"/>
<path d="M247.7,197.88 l1.35,2.5 h-2.7 Z" fill="#4858aa" stroke="#4858aa" stroke-width="0.35"/>
<path d="M247.7,213.34 l1.35,2.5 h-2.7 Z" fill="#c85aa2" stroke="#c85aa2" stroke-width="0.35"/>
<path d="M251.3,199.72 l1.35,2.5 h-2.7 Z" fill="#4858aa" stroke="#4858aa" stroke-width="0.35"/>
<path d="M251.3,214.95 l1.35,2.5 h-2.7 Z" fill="#c85aa2" stroke="#c85aa2" stroke-width="0.35"/>
<path d="M254.9,201.45 l1.35,2.5 h-2.7 Z" fill="#4858aa" stroke="#4858aa" stroke-width="0.35"/>
<path d="M254.9,216.75 l1.35,2.5 h-2.7 Z" fill="#c85aa2" stroke="#c85aa2" stroke-width="0.35"/>
<path d="M258.5,203.18 l1.35,2.5 h-2.7 Z" fill="#4858aa" stroke="#4858aa" stroke-width="0.35"/>
<path d="M258.5,218.55 l1.35,2.5 h-2.7 Z" fill="#c85aa2" stroke="#c85aa2" stroke-width="0.35"/>
<path d="M262.1,205.09 l1.35,2.5 h-2.7 Z" fill="#4858aa" stroke="#4858aa" stroke-width="0.35"/>
<path d="M262.1,220.54 l1.35,2.5 h-2.7 Z" fill="#c85aa2" stroke="#c85aa2" stroke-width="0.35"/>
<path d="M265.7,207.14 l1.35,2.5 h-2.7 Z" fill="#4858aa" stroke="#4858aa" stroke-width="0.35"/>
<path d="M265.7,222.67 l1.35,2.5 h-2.7 Z" fill="#c85aa2" stroke="#c85aa2" stroke-width="0.35"/>
<rect x="368.4" y="11.6" width="167" height="268.2" fill="none" stroke="#6e6e6e" stroke-width="1"/>
<line x1="368.4" y1="146.2" x2="535.4" y2="146.2" stroke="#6e6e6e" stroke-width="1"/>
<line x1="368.4" y1="140.7" x2="370.4" y2="140.7" stroke="#6e6e6e" stroke-width="1"/>
<text x="366.2" y="143.2" font-size="7" text-anchor="end" font-weight="normal" font-style="normal" fill="#333333" >0.0</text>
<line x1="368.4" y1="132.65" x2="369.6" y2="132.65" stroke="#6e6e6e" stroke-width="1"/>
<line x1="368.4" y1="124.6" x2="370.4" y2="124.6" stroke="#6e6e6e" stroke-width="1"/>
<text x="366.2" y="127.1" font-size="7" text-anchor="end" font-weight="normal" font-style="normal" fill="#333333" >0.2</text>
<line x1="368.4" y1="116.55" x2="369.6" y2="116.55" stroke="#6e6e6e" stroke-width="1"/>
<line x1="368.4" y1="108.5" x2="370.4" y2="108.5" stroke="#6e6e6e" stroke-width="1"/>
<text x="366.2" y="111" font-size="7" text-anchor="end" font-weight="normal" font-style="normal" fill="#333333" >0.4</text>
<line x1="368.4" y1="100.45" x2="369.6" y2="100.45" stroke="#6e6e6e" stroke-width="1"/>
<line x1="368.4" y1="92.4" x2="370.4" y2="92.4" stroke="#6e6e6e" stroke-width="1"/>
<text x="366.2" y="94.9" font-size="7" text-anchor="end" font-weight="normal" font-style="normal" fill="#333333" >0.6</text>
<line x1="368.4" y1="84.35" x2="369.6" y2="84.35" stroke="#6e6e6e" stroke-width="1"/>
<line x1="368.4" y1="76.3" x2="370.4" y2="76.3" stroke="#6e6e6e" stroke-width="1"/>
<text x="366.2" y="78.8" font-size="7" text-anchor="end" font-weight="normal" font-style="normal" fill="#333333" >0.8</text>
<line x1="368.4" y1="68.25" x2="369.6" y2="68.25" stroke="#6e6e6e" stroke-width="1"/>
<line x1="368.4" y1="60.2" x2="370.4" y2="60.2" stroke="#6e6e6e" stroke-width="1"/>
<text x="366.2" y="62.7" font-size="7" text-anchor="end" font-weight="normal" font-style="normal" fill="#333333" >1.0</text>
<line x1="368.4" y1="52.15" x2="369.6" y2="52.15" stroke="#6e6e6e" stroke-width="1"/>
<line x1="368.4" y1="44.1" x2="370.4" y2="44.1" stroke="#6e6e6e" stroke-width="1"/>
<text x="366.2" y="46.6" font-size="7" text-anchor="end" font-weight="normal" font-style="normal" fill="#333333" >1.2</text>
<line x1="368.4" y1="36.05" x2="369.6" y2="36.05" stroke="#6e6e6e" stroke-width="1"/>
<line x1="368.4" y1="28" x2="370.4" y2="28" stroke="#6e6e6e" stroke-width="1"/>
<text x="366.2" y="30.5" font-size="7" text-anchor="end" font-weight="normal" font-style="normal" fill="#333333" >1.4</text>
<line x1="368.4" y1="19.95" x2="369.6" y2="19.95" stroke="#6e6e6e" stroke-width="1"/>
<line x1="368.4" y1="11.9" x2="370.4" y2="11.9" stroke="#6e6e6e" stroke-width="1"/>
<text x="366.2" y="14.4" font-size="7" text-anchor="end" font-weight="normal" font-style="normal" fill="#333333" >1.6</text>
<line x1="368.4" y1="274.7" x2="370.4" y2="274.7" stroke="#6e6e6e" stroke-width="1"/>
<text x="366.2" y="277.2" font-size="7" text-anchor="end" font-weight="normal" font-style="normal" fill="#333333" >0.0</text>
<line x1="368.4" y1="262.95" x2="369.6" y2="262.95" stroke="#6e6e6e" stroke-width="1"/>
<line x1="368.4" y1="251.2" x2="370.4" y2="251.2" stroke="#6e6e6e" stroke-width="1"/>
<text x="366.2" y="253.7" font-size="7" text-anchor="end" font-weight="normal" font-style="normal" fill="#333333" >0.1</text>
<line x1="368.4" y1="239.45" x2="369.6" y2="239.45" stroke="#6e6e6e" stroke-width="1"/>
<line x1="368.4" y1="227.7" x2="370.4" y2="227.7" stroke="#6e6e6e" stroke-width="1"/>
<text x="366.2" y="230.2" font-size="7" text-anchor="end" font-weight="normal" font-style="normal" fill="#333333" >0.2</text>
<line x1="368.4" y1="215.95" x2="369.6" y2="215.95" stroke="#6e6e6e" stroke-width="1"/>
<line x1="368.4" y1="204.2" x2="370.4" y2="204.2" stroke="#6e6e6e" stroke-width="1"/>
<text x="366.2" y="206.7" font-size="7" text-anchor="end" font-weight="normal" font-style="normal" fill="#333333" >0.3</text>
<line x1="368.4" y1="192.45" x2="369.6" y2="192.45" stroke="#6e6e6e" stroke-width="1"/>
<line x1="368.4" y1="180.7" x2="370.4" y2="180.7" stroke="#6e6e6e" stroke-width="1"/>
<text x="366.2" y="183.2" font-size="7" text-anchor="end" font-weight="normal" font-style="normal" fill="#333333" >0.4</text>
<line x1="368.4" y1="168.95" x2="369.6" y2="168.95" stroke="#6e6e6e" stroke-width="1"/>
<line x1="368.4" y1="157.2" x2="370.4" y2="157.2" stroke="#6e6e6e" stroke-width="1"/>
<text x="366.2" y="159.7" font-size="7" text-anchor="end" font-weight="normal" font-style="normal" fill="#333333" >0.5</text>
<line x1="373.6" y1="146.2" x2="373.6" y2="144.2" stroke="#6e6e6e" stroke-width="1"/>
<line x1="373.6" y1="279.8" x2="373.6" y2="277.8" stroke="#6e6e6e" stroke-width="1"/>
<text x="373.6" y="288.6" font-size="6.7" text-anchor="middle" font-weight="normal" font-style="normal" fill="#333333" >300</text>
<line x1="386" y1="146.2" x2="386" y2="145" stroke="#6e6e6e" stroke-width="1"/>
<line x1="386" y1="279.8" x2="386" y2="278.6" stroke="#6e6e6e" stroke-width="1"/>
<line x1="398.4" y1="146.2" x2="398.4" y2="144.2" stroke="#6e6e6e" stroke-width="1"/>
<line x1="398.4" y1="279.8" x2="398.4" y2="277.8" stroke="#6e6e6e" stroke-width="1"/>
<text x="398.4" y="288.6" font-size="6.7" text-anchor="middle" font-weight="normal" font-style="normal" fill="#333333" >400</text>
<line x1="410.8" y1="146.2" x2="410.8" y2="145" stroke="#6e6e6e" stroke-width="1"/>
<line x1="410.8" y1="279.8" x2="410.8" y2="278.6" stroke="#6e6e6e" stroke-width="1"/>
<line x1="423.2" y1="146.2" x2="423.2" y2="144.2" stroke="#6e6e6e" stroke-width="1"/>
<line x1="423.2" y1="279.8" x2="423.2" y2="277.8" stroke="#6e6e6e" stroke-width="1"/>
<text x="423.2" y="288.6" font-size="6.7" text-anchor="middle" font-weight="normal" font-style="normal" fill="#333333" >500</text>
<line x1="435.6" y1="146.2" x2="435.6" y2="145" stroke="#6e6e6e" stroke-width="1"/>
<line x1="435.6" y1="279.8" x2="435.6" y2="278.6" stroke="#6e6e6e" stroke-width="1"/>
<line x1="448" y1="146.2" x2="448" y2="144.2" stroke="#6e6e6e" stroke-width="1"/>
<line x1="448" y1="279.8" x2="448" y2="277.8" stroke="#6e6e6e" stroke-width="1"/>
<text x="448" y="288.6" font-size="6.7" text-anchor="middle" font-weight="normal" font-style="normal" fill="#333333" >600</text>
<line x1="460.4" y1="146.2" x2="460.4" y2="145" stroke="#6e6e6e" stroke-width="1"/>
<line x1="460.4" y1="279.8" x2="460.4" y2="278.6" stroke="#6e6e6e" stroke-width="1"/>
<line x1="472.8" y1="146.2" x2="472.8" y2="144.2" stroke="#6e6e6e" stroke-width="1"/>
<line x1="472.8" y1="279.8" x2="472.8" y2="277.8" stroke="#6e6e6e" stroke-width="1"/>
<text x="472.8" y="288.6" font-size="6.7" text-anchor="middle" font-weight="normal" font-style="normal" fill="#333333" >700</text>
<line x1="485.2" y1="146.2" x2="485.2" y2="145" stroke="#6e6e6e" stroke-width="1"/>
<line x1="485.2" y1="279.8" x2="485.2" y2="278.6" stroke="#6e6e6e" stroke-width="1"/>
<line x1="497.6" y1="146.2" x2="497.6" y2="144.2" stroke="#6e6e6e" stroke-width="1"/>
<line x1="497.6" y1="279.8" x2="497.6" y2="277.8" stroke="#6e6e6e" stroke-width="1"/>
<text x="497.6" y="288.6" font-size="6.7" text-anchor="middle" font-weight="normal" font-style="normal" fill="#333333" >800</text>
<line x1="510" y1="146.2" x2="510" y2="145" stroke="#6e6e6e" stroke-width="1"/>
<line x1="510" y1="279.8" x2="510" y2="278.6" stroke="#6e6e6e" stroke-width="1"/>
<line x1="522.4" y1="146.2" x2="522.4" y2="144.2" stroke="#6e6e6e" stroke-width="1"/>
<line x1="522.4" y1="279.8" x2="522.4" y2="277.8" stroke="#6e6e6e" stroke-width="1"/>
<text x="522.4" y="288.6" font-size="6.7" text-anchor="middle" font-weight="normal" font-style="normal" fill="#333333" >900</text>
<text x="452.4" y="300.8" font-size="13" text-anchor="middle" font-weight="normal" font-style="normal" fill="#222" >Temperature (K)</text>
<text x="342.6" y="299.4" font-size="12.8" font-weight="bold" fill="#111" style="font-family:'Liberation Serif',serif">(e)</text>
<text transform="translate(354.2,71.9) rotate(-90)" font-size="13.6" text-anchor="middle" fill="#222">Figure-of-merit, <tspan font-style="italic">zT</tspan></text>
<text transform="translate(354.2,205.9) rotate(-90)" font-size="13.6" text-anchor="middle" fill="#222">Figure-of-merit, <tspan font-style="italic">zT</tspan></text>
<text x="381.6" y="38.6" font-size="11.6" text-anchor="start" font-weight="bold" font-style="normal" fill="#111" ><tspan font-style="italic">n</tspan>-type</text>
<text x="381.6" y="173.9" font-size="11.6" text-anchor="start" font-weight="bold" font-style="normal" fill="#111" ><tspan font-style="italic">p</tspan>-type</text>
<path d="M373.3,137.38 C374.11,137.25 376.53,136.89 378.15,136.59 C379.77,136.29 381.39,135.94 383,135.56 C384.62,135.19 386.24,134.77 387.86,134.32 C389.47,133.87 391.09,133.38 392.71,132.86 C394.32,132.34 395.94,131.79 397.56,131.21 C399.18,130.63 400.79,130.02 402.41,129.39 C404.03,128.75 405.64,128.09 407.26,127.4 C408.88,126.71 410.5,125.99 412.11,125.26 C413.73,124.52 415.35,123.76 416.97,122.98 C418.58,122.21 420.2,121.41 421.82,120.59 C423.43,119.77 425.05,118.94 426.67,118.09 C428.29,117.24 429.9,116.37 431.52,115.49 C433.14,114.62 434.76,113.72 436.37,112.82 C437.99,111.92 439.61,111 441.22,110.08 C442.84,109.16 444.46,108.23 446.08,107.3 C447.69,106.36 449.31,105.42 450.93,104.48 C452.54,103.53 454.16,102.59 455.78,101.64 C457.4,100.69 459.01,99.74 460.63,98.79 C462.25,97.84 463.87,96.89 465.48,95.95 C467.1,95.01 468.72,94.06 470.33,93.13 C471.95,92.2 473.57,91.27 475.19,90.35 C476.8,89.43 478.42,88.52 480.04,87.62 C481.66,86.72 483.27,85.83 484.89,84.95 C486.51,84.08 488.12,83.21 489.74,82.37 C491.36,81.52 492.98,80.69 494.59,79.87 C496.21,79.06 497.83,78.26 499.44,77.49 C501.06,76.71 502.68,75.96 504.3,75.23 C505.91,74.5 507.53,73.78 509.15,73.1 C510.77,72.42 513.19,71.45 514,71.13" fill="none" stroke="#7b7d3a" stroke-width="1.4" stroke-linecap="round"/>
<path d="M373.3,138.6 C376.38,138.1 385.08,137.03 391.8,135.6 C398.52,134.17 408.07,131.9 413.6,130 C419.13,128.1 420.6,126.12 425,124.2 C429.4,122.28 435.67,120.35 440,118.5 C444.33,116.65 447.97,114.75 451,113.1 C454.03,111.45 455.8,109.82 458.2,108.6 C460.6,107.38 463,106.98 465.4,105.8 C467.8,104.62 469.33,103.65 472.6,101.5 C475.87,99.35 481.77,95.35 485,92.9 C488.23,90.45 489,89.25 492,86.8 C495,84.35 499.67,80.57 503,78.2 C506.33,75.83 509.07,74.1 512,72.6 C514.93,71.1 518.3,69.97 520.6,69.2 C522.9,68.43 524.4,68.07 525.8,68 C527.2,67.93 528.47,68.67 529,68.8" fill="none" stroke="#6cc04a" stroke-width="1.5" stroke-linecap="round"/>
<path d="M373.3,137.97 C373.91,137.8 375.73,137.3 376.95,136.96 C378.16,136.62 379.38,136.28 380.6,135.95 C381.81,135.61 383.03,135.27 384.24,134.93 C385.46,134.6 386.68,134.26 387.89,133.92 C389.11,133.58 390.33,133.24 391.54,132.91 C392.76,132.57 393.97,132.23 395.19,131.89 C396.41,131.55 397.62,131.21 398.84,130.87 C400.05,130.53 401.27,130.2 402.49,129.86 C403.7,129.52 404.92,129.18 406.13,128.84 C407.35,128.5 408.57,128.16 409.78,127.82 C411,127.48 412.21,127.14 413.43,126.8 C414.65,126.46 415.86,126.12 417.08,125.78 C418.3,125.44 419.51,125.1 420.73,124.76 C421.94,124.42 423.16,124.08 424.38,123.74 C425.59,123.39 426.81,123.05 428.02,122.71 C429.24,122.37 430.46,122.03 431.67,121.69 C432.89,121.35 434.1,121.01 435.32,120.66 C436.54,120.32 437.75,119.98 438.97,119.64 C440.19,119.3 441.4,118.95 442.62,118.61 C443.83,118.27 445.05,117.93 446.27,117.59 C447.48,117.24 448.7,116.9 449.91,116.56 C451.13,116.21 452.35,115.87 453.56,115.53 C454.78,115.19 455.99,114.84 457.21,114.5 C458.43,114.16 459.64,113.81 460.86,113.47 C462.07,113.12 463.29,112.78 464.51,112.44 C465.72,112.09 466.94,111.75 468.16,111.4 C469.37,111.06 470.59,110.72 471.8,110.37 C473.02,110.03 474.24,109.68 475.45,109.34 C476.67,108.99 478.49,108.48 479.1,108.3" fill="none" stroke="#2e8b3a" stroke-width="1.6" stroke-linecap="round"/>
<path d="M374.9,128.23 C375.5,128.08 377.31,127.65 378.52,127.3 C379.72,126.95 380.93,126.55 382.13,126.13 C383.34,125.7 384.55,125.24 385.75,124.75 C386.96,124.26 388.16,123.74 389.37,123.19 C390.57,122.64 391.78,122.06 392.99,121.46 C394.19,120.86 395.4,120.23 396.6,119.59 C397.81,118.95 399.01,118.28 400.22,117.61 C401.43,116.93 402.63,116.23 403.84,115.53 C405.04,114.83 406.25,114.11 407.46,113.38 C408.66,112.66 409.87,111.92 411.07,111.19 C412.28,110.45 413.48,109.71 414.69,108.97 C415.9,108.23 417.1,107.49 418.31,106.75 C419.51,106.02 420.72,105.28 421.92,104.56 C423.13,103.84 424.34,103.12 425.54,102.41 C426.75,101.71 427.95,101.02 429.16,100.34 C430.36,99.66 431.57,99 432.78,98.36 C433.98,97.71 435.19,97.09 436.39,96.49 C437.6,95.89 438.8,95.31 440.01,94.76 C441.22,94.22 442.42,93.69 443.63,93.2 C444.83,92.71 446.04,92.25 447.24,91.83 C448.45,91.4 449.66,91.01 450.86,90.66 C452.07,90.31 453.27,90 454.48,89.73 C455.69,89.46 456.89,89.23 458.1,89.06 C459.3,88.88 460.51,88.74 461.71,88.66 C462.92,88.58 464.13,88.55 465.33,88.57 C466.54,88.6 467.74,88.67 468.95,88.81 C470.15,88.95 471.36,89.14 472.57,89.39 C473.77,89.65 474.98,89.97 476.18,90.35 C477.39,90.74 479.2,91.49 479.8,91.71" fill="none" stroke="#d4e04a" stroke-width="1.6" stroke-linecap="round"/>
<path d="M377,113.06 C377.69,112.47 379.78,110.68 381.17,109.53 C382.55,108.38 383.94,107.26 385.33,106.15 C386.72,105.04 388.11,103.96 389.5,102.88 C390.89,101.81 392.27,100.75 393.66,99.69 C395.05,98.63 396.44,97.59 397.83,96.54 C399.22,95.5 400.6,94.46 401.99,93.41 C403.38,92.37 404.77,91.32 406.16,90.28 C407.55,89.23 408.94,88.18 410.32,87.12 C411.71,86.06 413.1,85 414.49,83.93 C415.88,82.86 417.27,81.79 418.66,80.7 C420.04,79.62 421.43,78.53 422.82,77.43 C424.21,76.33 425.6,75.23 426.99,74.11 C428.37,73 429.76,71.89 431.15,70.76 C432.54,69.64 433.93,68.52 435.32,67.39 C436.71,66.26 438.09,65.13 439.48,64.01 C440.87,62.88 442.26,61.76 443.65,60.64 C445.04,59.52 446.43,58.41 447.81,57.31 C449.2,56.21 450.59,55.12 451.98,54.05 C453.37,52.98 454.76,51.92 456.14,50.89 C457.53,49.87 458.92,48.85 460.31,47.88 C461.7,46.91 463.09,45.96 464.48,45.05 C465.86,44.15 467.25,43.28 468.64,42.47 C470.03,41.65 471.42,40.88 472.81,40.17 C474.2,39.46 475.58,38.8 476.97,38.22 C478.36,37.64 479.75,37.12 481.14,36.69 C482.53,36.26 483.91,35.89 485.3,35.63 C486.69,35.37 488.08,35.19 489.47,35.13 C490.86,35.07 492.25,35.1 493.63,35.26 C495.02,35.43 497.11,35.97 497.8,36.11" fill="none" stroke="#f0923a" stroke-width="1.7" stroke-linecap="round"/>
<path d="M374.2,106.9 C374.8,106.45 376.6,105.13 377.81,104.21 C379.01,103.29 380.21,102.35 381.41,101.39 C382.62,100.43 383.82,99.45 385.02,98.46 C386.22,97.47 387.43,96.45 388.63,95.43 C389.83,94.41 391.03,93.37 392.23,92.32 C393.44,91.27 394.64,90.2 395.84,89.13 C397.04,88.06 398.25,86.98 399.45,85.9 C400.65,84.81 401.85,83.71 403.06,82.61 C404.26,81.52 405.46,80.41 406.66,79.3 C407.86,78.2 409.07,77.09 410.27,75.98 C411.47,74.87 412.67,73.76 413.88,72.65 C415.08,71.55 416.28,70.44 417.48,69.34 C418.69,68.24 419.89,67.14 421.09,66.05 C422.29,64.97 423.49,63.88 424.7,62.81 C425.9,61.73 427.1,60.67 428.3,59.62 C429.51,58.56 430.71,57.52 431.91,56.49 C433.11,55.46 434.31,54.45 435.52,53.45 C436.72,52.45 437.92,51.47 439.12,50.5 C440.33,49.54 441.53,48.59 442.73,47.67 C443.93,46.74 445.14,45.83 446.34,44.95 C447.54,44.07 448.74,43.21 449.94,42.37 C451.15,41.54 452.35,40.73 453.55,39.95 C454.75,39.17 455.96,38.41 457.16,37.69 C458.36,36.96 459.56,36.26 460.77,35.6 C461.97,34.94 463.17,34.31 464.37,33.71 C465.57,33.11 466.78,32.55 467.98,32.03 C469.18,31.5 470.38,31.01 471.59,30.56 C472.79,30.11 473.99,29.7 475.19,29.33 C476.4,28.96 478.2,28.51 478.8,28.34" fill="none" stroke="#d8303a" stroke-width="1.6" stroke-linecap="round"/>
<path d="M373.5,116.26 C374.21,115.46 376.36,113.03 377.79,111.44 C379.21,109.86 380.64,108.3 382.07,106.75 C383.5,105.2 384.93,103.68 386.36,102.17 C387.79,100.65 389.22,99.16 390.64,97.67 C392.07,96.19 393.5,94.72 394.93,93.26 C396.36,91.8 397.79,90.35 399.22,88.91 C400.65,87.46 402.07,86.03 403.5,84.61 C404.93,83.18 406.36,81.77 407.79,80.36 C409.22,78.95 410.65,77.55 412.08,76.16 C413.5,74.77 414.93,73.39 416.36,72.01 C417.79,70.64 419.22,69.27 420.65,67.91 C422.08,66.55 423.51,65.2 424.93,63.87 C426.36,62.53 427.79,61.2 429.22,59.89 C430.65,58.58 432.08,57.28 433.51,56 C434.94,54.71 436.36,53.44 437.79,52.19 C439.22,50.95 440.65,49.71 442.08,48.51 C443.51,47.3 444.94,46.11 446.37,44.95 C447.79,43.8 449.22,42.66 450.65,41.56 C452.08,40.46 453.51,39.39 454.94,38.35 C456.37,37.32 457.8,36.32 459.22,35.36 C460.65,34.41 462.08,33.49 463.51,32.62 C464.94,31.76 466.37,30.93 467.8,30.17 C469.23,29.41 470.65,28.69 472.08,28.04 C473.51,27.39 474.94,26.8 476.37,26.28 C477.8,25.77 479.23,25.31 480.66,24.94 C482.08,24.57 483.51,24.26 484.94,24.05 C486.37,23.85 487.8,23.71 489.23,23.69 C490.66,23.66 492.09,23.71 493.51,23.88 C494.94,24.05 497.09,24.57 497.8,24.71" fill="none" stroke="#7a1820" stroke-width="1.6" stroke-linecap="round"/>
<path d="M373.2,275.3 C377.67,275.33 391.77,275.5 400,275.5 C408.23,275.5 414.43,275.45 422.6,275.3 C430.77,275.15 442.77,274.82 449,274.6 C455.23,274.38 456.5,274.35 460,274 C463.5,273.65 465.73,273.4 470,272.5 C474.27,271.6 480.43,270.63 485.6,268.6 C490.77,266.57 496.72,262.83 501,260.3 C505.28,257.77 508.95,255.28 511.3,253.4 C513.65,251.52 513.82,250.4 515.1,249 C516.38,247.6 517.88,246.03 519,245 C520.12,243.97 520.73,244.07 521.8,242.8 C522.87,241.53 524.37,239.17 525.4,237.4 C526.43,235.63 527.57,233.07 528,232.2" fill="none" stroke="#e2307e" stroke-width="1.6" stroke-linecap="round"/>
<path d="M380,259.08 C380.54,258.92 382.16,258.45 383.24,258.1 C384.33,257.75 385.41,257.38 386.49,256.99 C387.57,256.6 388.65,256.19 389.73,255.76 C390.82,255.33 391.9,254.89 392.98,254.44 C394.06,253.98 395.14,253.51 396.22,253.03 C397.31,252.56 398.39,252.07 399.47,251.57 C400.55,251.08 401.63,250.58 402.71,250.07 C403.8,249.57 404.88,249.06 405.96,248.56 C407.04,248.05 408.12,247.54 409.2,247.04 C410.29,246.53 411.37,246.03 412.45,245.54 C413.53,245.05 414.61,244.56 415.69,244.08 C416.77,243.6 417.86,243.13 418.94,242.68 C420.02,242.23 421.1,241.78 422.18,241.36 C423.26,240.94 424.35,240.53 425.43,240.14 C426.51,239.75 427.59,239.38 428.67,239.04 C429.75,238.7 430.84,238.37 431.92,238.08 C433,237.78 434.08,237.51 435.16,237.28 C436.24,237.04 437.33,236.83 438.41,236.66 C439.49,236.48 440.57,236.34 441.65,236.24 C442.73,236.14 443.81,236.07 444.9,236.04 C445.98,236.02 447.06,236.03 448.14,236.09 C449.22,236.15 450.3,236.24 451.39,236.4 C452.47,236.55 453.55,236.74 454.63,236.99 C455.71,237.24 456.79,237.53 457.88,237.89 C458.96,238.24 460.04,238.65 461.12,239.11 C462.2,239.58 463.28,240.1 464.37,240.69 C465.45,241.27 466.53,241.92 467.61,242.63 C468.69,243.34 469.77,244.12 470.86,244.96 C471.94,245.81 473.56,247.25 474.1,247.71" fill="none" stroke="#a8449c" stroke-width="1.5" stroke-linecap="round"/>
<path d="M373.4,256.57 C374.19,256.02 376.57,254.51 378.16,253.3 C379.74,252.08 381.33,250.71 382.91,249.27 C384.5,247.83 386.08,246.27 387.67,244.67 C389.25,243.07 390.84,241.37 392.42,239.67 C394.01,237.96 395.59,236.18 397.18,234.42 C398.76,232.65 400.35,230.85 401.93,229.07 C403.52,227.29 405.1,225.5 406.69,223.76 C408.27,222.01 409.86,220.27 411.44,218.6 C413.03,216.92 414.61,215.28 416.2,213.71 C417.78,212.14 419.37,210.61 420.95,209.18 C422.54,207.75 424.12,206.38 425.71,205.11 C427.29,203.84 428.88,202.64 430.46,201.56 C432.05,200.48 433.63,199.49 435.22,198.61 C436.8,197.73 438.39,196.96 439.97,196.31 C441.56,195.65 443.14,195.11 444.73,194.69 C446.31,194.28 447.9,193.98 449.48,193.81 C451.07,193.64 452.65,193.59 454.24,193.67 C455.82,193.76 457.41,193.96 458.99,194.3 C460.58,194.64 462.16,195.1 463.75,195.69 C465.33,196.29 466.92,197.01 468.5,197.85 C470.09,198.69 471.67,199.66 473.26,200.75 C474.84,201.83 476.43,203.05 478.01,204.37 C479.6,205.69 481.18,207.13 482.77,208.68 C484.35,210.22 485.94,211.88 487.52,213.63 C489.11,215.38 490.69,217.24 492.28,219.18 C493.86,221.12 495.45,223.16 497.03,225.26 C498.62,227.37 500.2,229.57 501.79,231.81 C503.37,234.06 504.96,236.39 506.54,238.76 C508.13,241.12 510.51,244.8 511.3,246.01" fill="none" stroke="#7458aa" stroke-width="1.5" stroke-linecap="round"/>
<path d="M373.4,259.14 C374.12,258.62 376.28,257.11 377.72,256.02 C379.16,254.92 380.6,253.77 382.04,252.57 C383.48,251.38 384.92,250.13 386.36,248.84 C387.8,247.55 389.24,246.21 390.68,244.84 C392.12,243.47 393.56,242.05 395,240.6 C396.44,239.16 397.88,237.67 399.32,236.16 C400.76,234.65 402.2,233.11 403.64,231.54 C405.09,229.98 406.53,228.39 407.97,226.79 C409.41,225.18 410.85,223.55 412.29,221.92 C413.73,220.28 415.17,218.63 416.61,216.97 C418.05,215.32 419.49,213.65 420.93,211.98 C422.37,210.32 423.81,208.65 425.25,206.99 C426.69,205.33 428.13,203.67 429.57,202.03 C431.01,200.38 432.45,198.75 433.89,197.13 C435.33,195.52 436.77,193.91 438.21,192.34 C439.65,190.77 441.09,189.21 442.53,187.69 C443.97,186.18 445.41,184.68 446.85,183.23 C448.29,181.78 449.73,180.37 451.17,179 C452.61,177.63 454.05,176.3 455.49,175.03 C456.93,173.76 458.37,172.53 459.81,171.37 C461.25,170.21 462.69,169.11 464.13,168.07 C465.57,167.04 467.01,166.06 468.46,165.17 C469.9,164.27 471.34,163.45 472.78,162.71 C474.22,161.97 475.66,161.31 477.1,160.74 C478.54,160.17 479.98,159.69 481.42,159.31 C482.86,158.93 484.3,158.64 485.74,158.46 C487.18,158.29 488.62,158.21 490.06,158.26 C491.5,158.3 492.94,158.45 494.38,158.73 C495.82,159.01 497.98,159.74 498.7,159.95" fill="none" stroke="#5f9ed6" stroke-width="1.5" stroke-linecap="round"/>
<path d="M373.4,251.8 C373.97,251.43 375.68,250.35 376.82,249.57 C377.96,248.79 379.1,247.97 380.23,247.12 C381.37,246.27 382.51,245.38 383.65,244.47 C384.79,243.55 385.93,242.6 387.07,241.63 C388.21,240.66 389.35,239.65 390.49,238.62 C391.63,237.59 392.76,236.54 393.9,235.46 C395.04,234.38 396.18,233.28 397.32,232.16 C398.46,231.04 399.6,229.89 400.74,228.73 C401.88,227.57 403.02,226.39 404.16,225.2 C405.29,224 406.43,222.79 407.57,221.57 C408.71,220.34 409.85,219.11 410.99,217.86 C412.13,216.61 413.27,215.35 414.41,214.09 C415.55,212.82 416.69,211.55 417.82,210.27 C418.96,208.99 420.1,207.7 421.24,206.42 C422.38,205.13 423.52,203.84 424.66,202.55 C425.8,201.26 426.94,199.96 428.08,198.67 C429.21,197.39 430.35,196.1 431.49,194.82 C432.63,193.53 433.77,192.26 434.91,190.99 C436.05,189.72 437.19,188.45 438.33,187.2 C439.47,185.95 440.61,184.7 441.74,183.47 C442.88,182.24 444.02,181.02 445.16,179.82 C446.3,178.62 447.44,177.43 448.58,176.26 C449.72,175.09 450.86,173.93 452,172.8 C453.14,171.67 454.27,170.56 455.41,169.47 C456.55,168.38 457.69,167.31 458.83,166.26 C459.97,165.22 461.11,164.2 462.25,163.21 C463.39,162.23 464.53,161.26 465.67,160.33 C466.8,159.4 467.94,158.5 469.08,157.63 C470.22,156.76 471.93,155.54 472.5,155.12" fill="none" stroke="#2f3590" stroke-width="1.6" stroke-linecap="round"/>
<text x="409.5" y="22.7" fill="#2a2a2a"><tspan font-size="8.2" dy="0">Mg</tspan><tspan font-size="4.9" dy="3.5" style="stroke-width:0.1px">2</tspan><tspan font-size="8.2" dy="-3.5">Si</tspan><tspan font-size="4.9" dy="3.5" style="stroke-width:0.1px">0.3</tspan><tspan font-size="8.2" dy="-3.5">Ge</tspan><tspan font-size="4.9" dy="3.5" style="stroke-width:0.1px">0.05</tspan><tspan font-size="8.2" dy="-3.5">Sn</tspan><tspan font-size="4.9" dy="3.5" style="stroke-width:0.1px">0.65</tspan></text>
<text x="480.3" y="32.7" fill="#2a2a2a"><tspan font-size="8.2" dy="0">Mg</tspan><tspan font-size="4.9" dy="3.5" style="stroke-width:0.1px">2</tspan><tspan font-size="8.2" dy="-3.5">Ge</tspan><tspan font-size="4.9" dy="3.5" style="stroke-width:0.1px">0.25</tspan><tspan font-size="8.2" dy="-3.5">Sn</tspan><tspan font-size="4.9" dy="3.5" style="stroke-width:0.1px">0.75</tspan></text>
<text x="485.2" y="45.2" fill="#2a2a2a"><tspan font-size="8.2" dy="0">Mg</tspan><tspan font-size="4.9" dy="3.5" style="stroke-width:0.1px">2</tspan><tspan font-size="8.2" dy="-3.5">Si</tspan><tspan font-size="4.9" dy="3.5" style="stroke-width:0.1px">0.3</tspan><tspan font-size="8.2" dy="-3.5">Sn</tspan><tspan font-size="4.9" dy="3.5" style="stroke-width:0.1px">0.7</tspan></text>
<text x="482.4" y="63.4" fill="#2a2a2a"><tspan font-size="8.2" dy="0">Mg</tspan><tspan font-size="4.9" dy="3.5" style="stroke-width:0.1px">2</tspan><tspan font-size="8.2" dy="-3.5">Si</tspan><tspan font-size="4.9" dy="3.5" style="stroke-width:0.1px">0.6</tspan><tspan font-size="8.2" dy="-3.5">Ge</tspan><tspan font-size="4.9" dy="3.5" style="stroke-width:0.1px">0.4</tspan></text>
<text x="465" y="81.2" fill="#2a2a2a"><tspan font-size="8.2" dy="0">Mg</tspan><tspan font-size="4.9" dy="3.5" style="stroke-width:0.1px">2</tspan><tspan font-size="8.2" dy="-3.5">Si</tspan></text>
<text x="429" y="87.8" fill="#2a2a2a"><tspan font-size="8.2" dy="0">Mg</tspan><tspan font-size="4.9" dy="3.5" style="stroke-width:0.1px">2</tspan><tspan font-size="8.2" dy="-3.5">Sn</tspan></text>
<text x="482.2" y="111" fill="#2a2a2a"><tspan font-size="8.2" dy="0">Mg</tspan><tspan font-size="4.9" dy="3.5" style="stroke-width:0.1px">2</tspan><tspan font-size="8.2" dy="-3.5">Ge</tspan></text>
<text x="416" y="157.8" fill="#2a2a2a"><tspan font-size="8.2" dy="0">Mg</tspan><tspan font-size="4.9" dy="3.5" style="stroke-width:0.1px">2</tspan><tspan font-size="8.2" dy="-3.5">Ge</tspan><tspan font-size="4.9" dy="3.5" style="stroke-width:0.1px">0.4</tspan><tspan font-size="8.2" dy="-3.5">Sn</tspan><tspan font-size="4.9" dy="3.5" style="stroke-width:0.1px">0.6</tspan></text>
<text x="478.2" y="168.4" fill="#2a2a2a"><tspan font-size="8.2" dy="0">Mg</tspan><tspan font-size="4.9" dy="3.5" style="stroke-width:0.1px">2</tspan><tspan font-size="8.2" dy="-3.5">Si</tspan><tspan font-size="4.9" dy="3.5" style="stroke-width:0.1px">0.3</tspan><tspan font-size="8.2" dy="-3.5">Sn</tspan><tspan font-size="4.9" dy="3.5" style="stroke-width:0.1px">0.7</tspan></text>
<text x="474.1" y="200.9" fill="#2a2a2a"><tspan font-size="8.2" dy="0">Mg</tspan><tspan font-size="4.9" dy="3.5" style="stroke-width:0.1px">2</tspan><tspan font-size="8.2" dy="-3.5">Si</tspan><tspan font-size="4.9" dy="3.5" style="stroke-width:0.1px">0.6</tspan><tspan font-size="8.2" dy="-3.5">Ge</tspan><tspan font-size="4.9" dy="3.5" style="stroke-width:0.1px">0.4</tspan></text>
<text x="467.2" y="242.2" fill="#2a2a2a"><tspan font-size="8.2" dy="0">Mg</tspan><tspan font-size="4.9" dy="3.5" style="stroke-width:0.1px">2</tspan><tspan font-size="8.2" dy="-3.5">Sn</tspan></text>
<text x="510" y="231.9" fill="#2a2a2a"><tspan font-size="8.2" dy="0">Mg</tspan><tspan font-size="4.9" dy="3.5" style="stroke-width:0.1px">2</tspan><tspan font-size="8.2" dy="-3.5">Si</tspan></text>
</svg></body></html>
